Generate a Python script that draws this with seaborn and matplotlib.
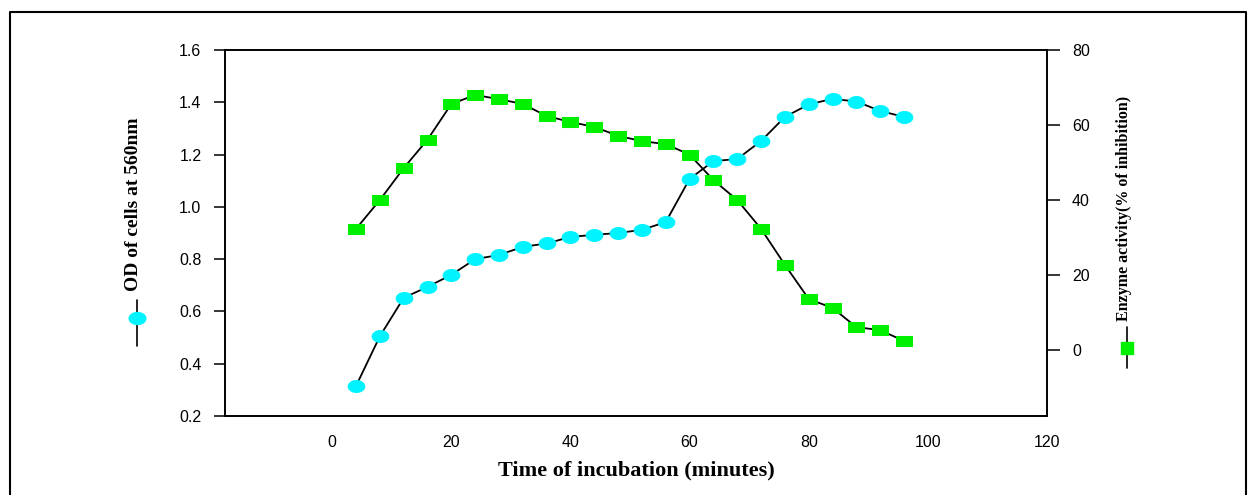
import numpy as np
import pandas as pd
import matplotlib
matplotlib.use("Agg")
import matplotlib.pyplot as plt
import seaborn as sns
from matplotlib.path import Path
from matplotlib.lines import Line2D

sns.set_theme(style="white")
plt.rcParams['font.family'] = ['Liberation Sans', 'DejaVu Sans']
plt.rcParams['text.color'] = 'black'
plt.rcParams['axes.labelcolor'] = 'black'

time_min = [4, 8, 12, 16, 20, 24, 28, 32, 36, 40, 44, 48, 52, 56, 60, 64, 68, 72, 76, 80, 84, 88, 92, 96]
od_cells = [0.315, 0.505, 0.652, 0.694, 0.740, 0.800, 0.816, 0.847, 0.860, 0.885, 0.893, 0.900, 0.912, 0.942,
            1.107, 1.175, 1.183, 1.252, 1.344, 1.392, 1.413, 1.403, 1.367, 1.344]
enzyme_activity = [32.3, 40.0, 48.5, 56.1, 65.6, 68.0, 66.9, 65.6, 62.4, 60.8, 59.5, 57.1, 55.7, 54.9,
                   52.1, 45.3, 40.0, 32.3, 22.7, 13.6, 11.2, 6.1, 5.3, 2.4]

x_ticks = [0, 20, 40, 60, 80, 100, 120]
left_ticks = [0.2, 0.4, 0.6, 0.8, 1.0, 1.2, 1.4, 1.6]
right_ticks = [0, 20, 40, 60, 80]

df = pd.DataFrame({"time": time_min, "od": od_cells, "enz": enzyme_activity})

# custom marker shapes
theta = np.linspace(0, 2 * np.pi, 40)
ellipse = Path(np.column_stack([1.4 * np.cos(theta), np.sin(theta)]), closed=True)
rect = Path([(-1.5, -1), (1.5, -1), (1.5, 1), (-1.5, 1), (-1.5, -1)], closed=True)

CYAN = "#00F4FF"
GREEN = "#00F000"
SERIF = ["Liberation Serif", "DejaVu Serif"]

fig = plt.figure(figsize=(12.48, 4.95), dpi=100)
ax = fig.add_axes([225 / 1248, 1 - 416 / 495, (1047 - 225) / 1248, (416 - 50) / 495])
ax2 = ax.twinx()

sns.lineplot(data=df, x="time", y="od", ax=ax, color="black", lw=1.3,
             marker=ellipse, markersize=12, markerfacecolor=CYAN, markeredgecolor=CYAN)
sns.lineplot(data=df, x="time", y="enz", ax=ax2, color="black", lw=1.3,
             marker=rect, markersize=11, markerfacecolor=GREEN, markeredgecolor=GREEN)

ax.set_xlim(-18, 120)
ax.set_ylim(0.2, 1.6)
ax2.set_ylim(-17.6, 80)
ax.set_xticks(x_ticks)
ax.set_xticklabels([str(t) for t in x_ticks])
ax.set_yticks(left_ticks)
ax.set_yticklabels([f"{t:.1f}" for t in left_ticks])
ax2.set_yticks(right_ticks)
ax2.set_yticklabels([str(t) for t in right_ticks])

for a in (ax, ax2):
    for s in a.spines.values():
        s.set_color("black")
        s.set_linewidth(1.2)
    a.grid(False)
ax.tick_params(axis="both", direction="out", length=8, width=1.1, colors="black", labelsize=11.5, pad=6)
ax.tick_params(axis="y", pad=9)
ax2.tick_params(axis="y", direction="out", length=9, width=1.1, colors="black", labelsize=11.5, pad=9)

ax.set_xlabel("Time of incubation (minutes)", fontsize=16, fontweight="bold",
              family=SERIF, labelpad=7, color="black")
ax.set_ylabel("")
ax2.set_ylabel("")

fig.text(133 / 1248, 1 - 204 / 495, "OD of cells at 560nm", rotation=90, ha="center", va="center",
         fontsize=14, fontweight="bold", family=SERIF, color="black")
fig.text(1124 / 1248, 1 - 208 / 495, "Enzyme activity(% of inhibition)", rotation=90, ha="center", va="center",
         fontsize=11.5, fontweight="bold", family=SERIF, color="black")

# rotated legend symbols
fig.add_artist(Line2D([137 / 1248, 137 / 1248], [1 - 300 / 495, 1 - 346 / 495], transform=fig.transFigure,
                      color="black", lw=1.2))
fig.add_artist(Line2D([137 / 1248], [1 - 318 / 495], transform=fig.transFigure, marker=ellipse,
                      markersize=12, mfc=CYAN, mec=CYAN, ls="none"))
fig.add_artist(Line2D([1127 / 1248, 1127 / 1248], [1 - 327 / 495, 1 - 368 / 495], transform=fig.transFigure,
                      color="black", lw=1.2))
fig.add_artist(Line2D([1127 / 1248], [1 - 348 / 495], transform=fig.transFigure, marker="s",
                      markersize=9, mfc=GREEN, mec=GREEN, ls="none"))

# outer frame (left, top, right)
fig.add_artist(Line2D([10 / 1248, 10 / 1248, 1246 / 1248, 1246 / 1248],
                      [-0.05, 1 - 12 / 495, 1 - 12 / 495, -0.05], transform=fig.transFigure,
                      color="black", lw=1.5))

fig.savefig("out.png", dpi=100)
